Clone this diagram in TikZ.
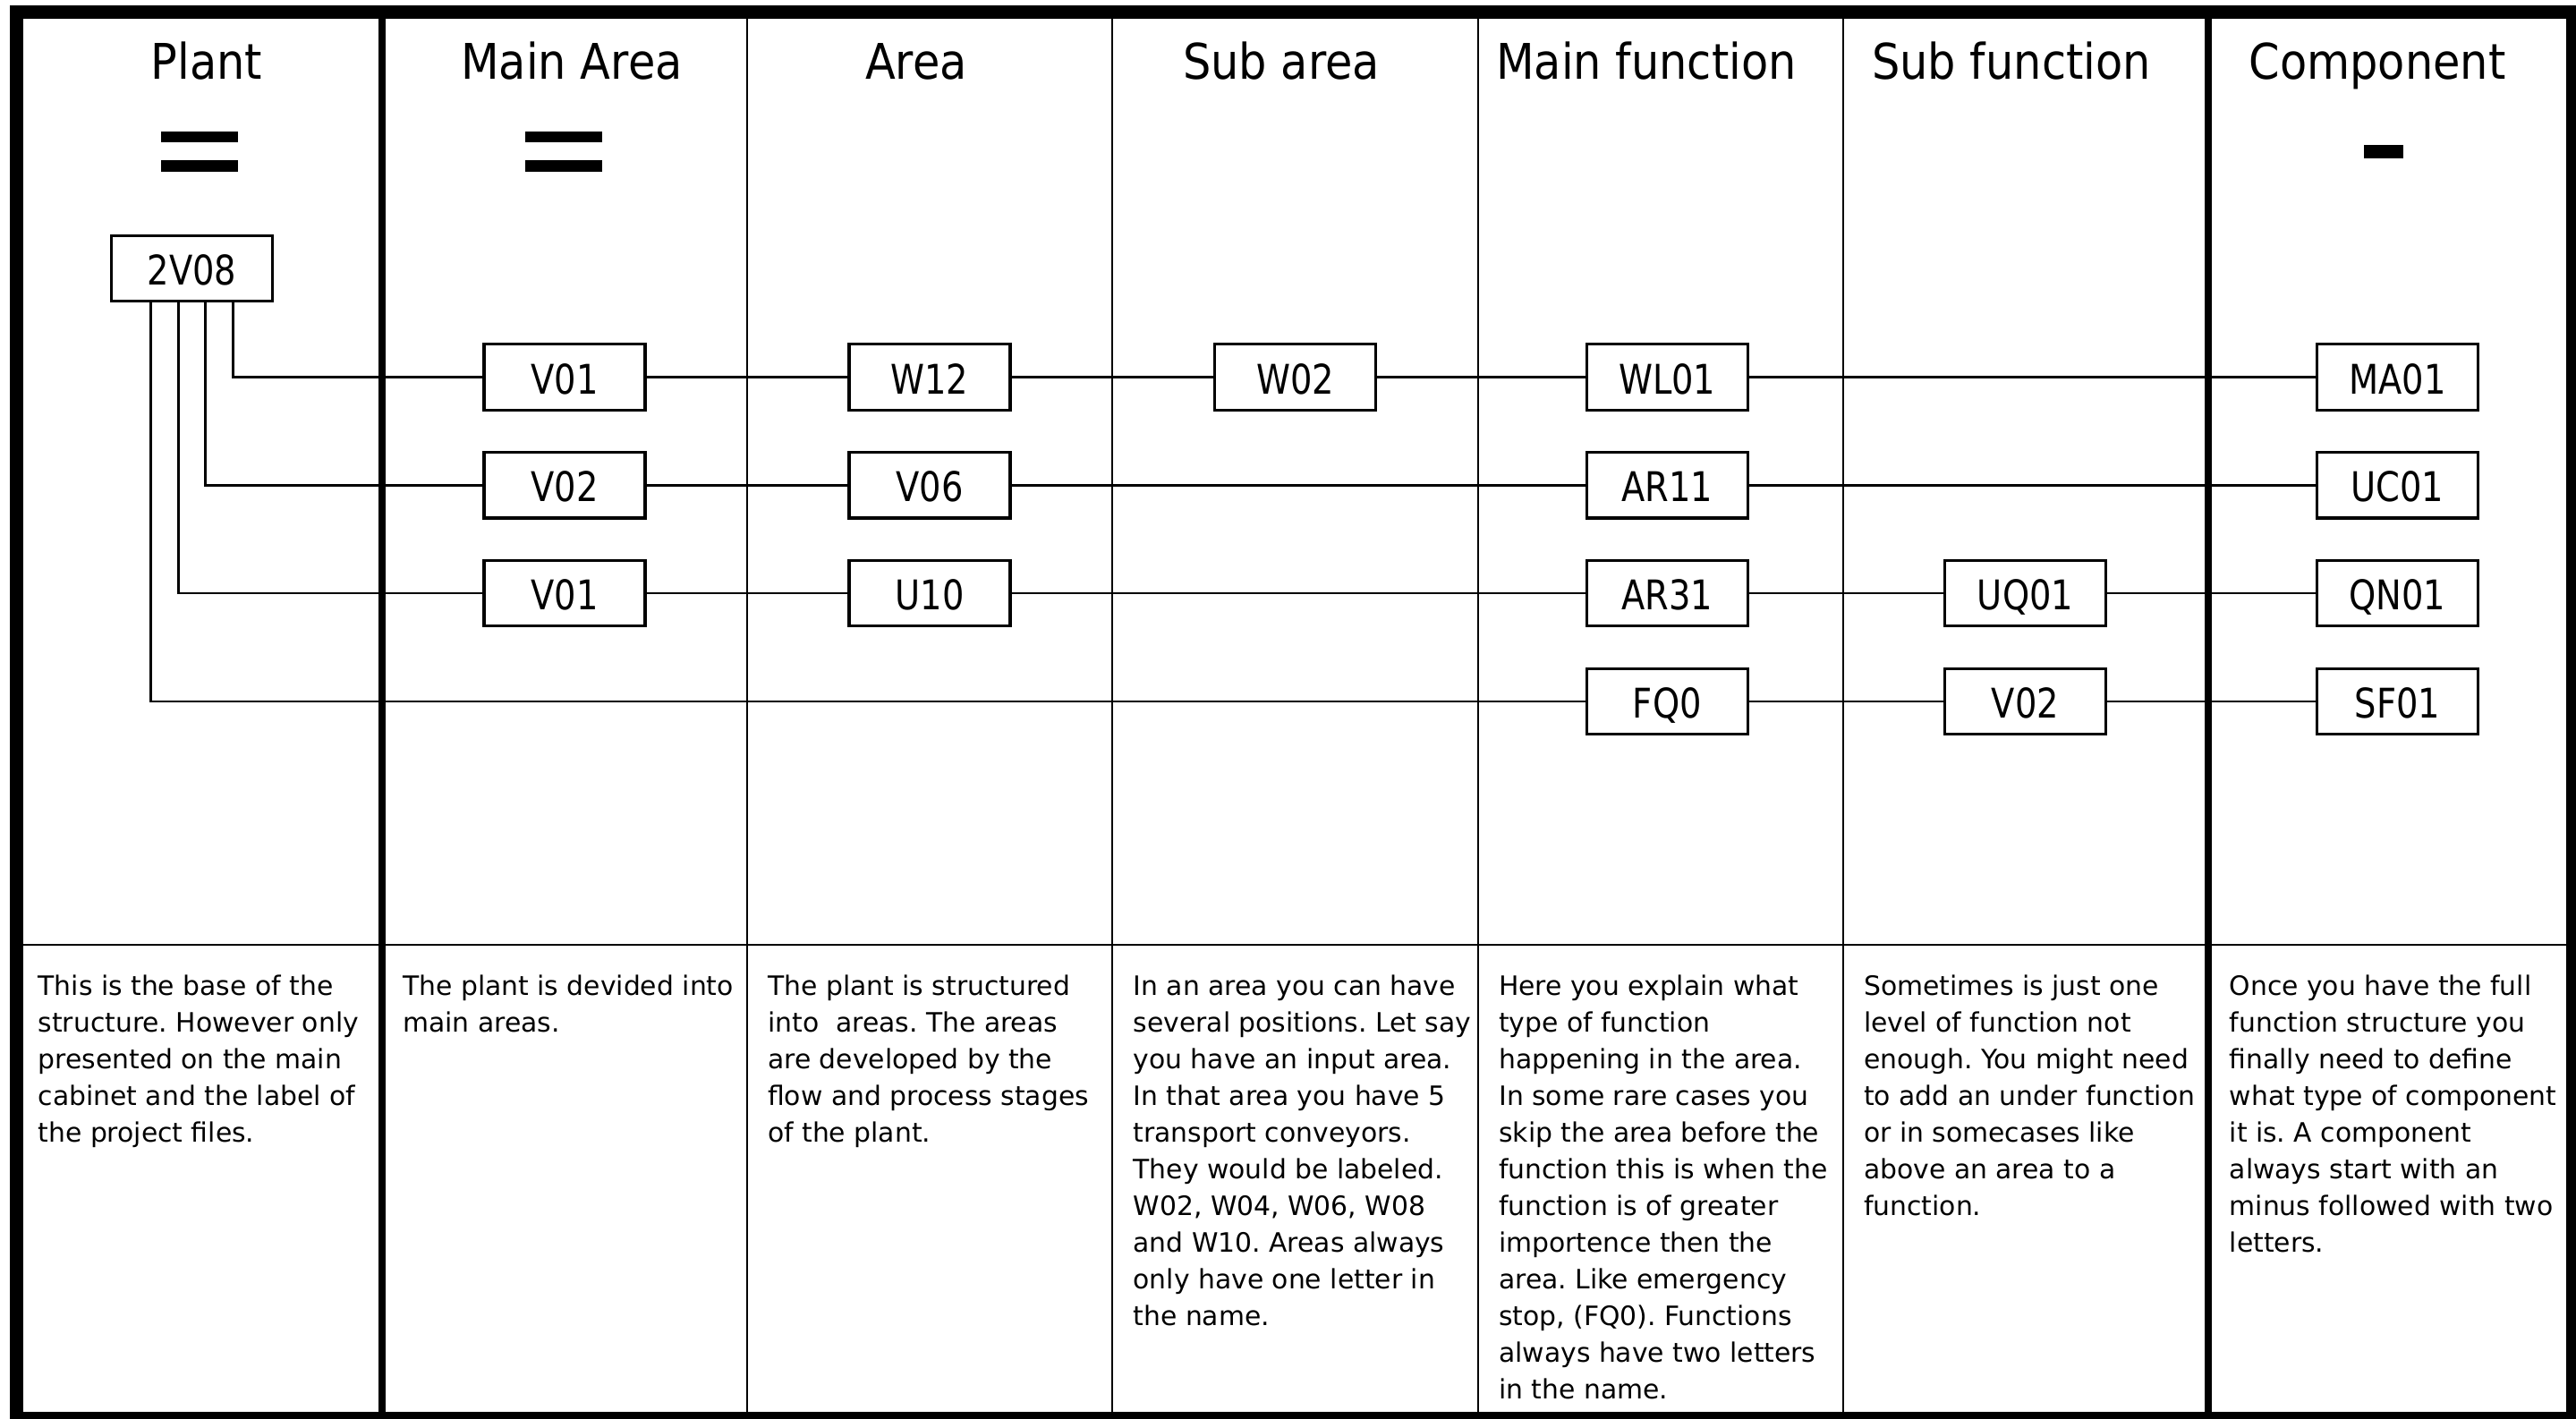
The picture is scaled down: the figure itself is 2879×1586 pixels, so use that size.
\documentclass[tikz,border=0pt]{standalone}
\usepackage{fontspec}
\setmainfont{DejaVu Sans}
\newfontfamily\titlefont{DejaVu Sans}[FakeStretch=0.9]
\newfontfamily\boxfont{DejaVu Sans}[FakeStretch=0.84]
\frenchspacing
\begin{document}
\begin{tikzpicture}[x=1pt,y=-1pt,
  box/.style={draw, line width=3.3pt, fill=white, minimum width=180pt, minimum height=73.5pt,
    inner sep=0pt, font=\boxfont\fontsize{45.7}{50}\selectfont, text height=37pt, text depth=0pt},
  conn/.style={line width=2.7pt},
  thincol/.style={line width=2pt},
  heavycol/.style={line width=8pt},
  coltitle/.style={font=\titlefont\fontsize{54.9}{60}\selectfont, anchor=base, inner sep=0pt},
  body/.style={font=\fontsize{29.8}{41}\selectfont, anchor=north west, align=left, inner sep=0pt}
]
\useasboundingbox (0,0) rectangle (2879,1586);
\clip (0,0) rectangle (2879,1586);
\fill[white] (0,0) rectangle (2879,1586);

% grid
\draw[thincol] (18.5,1055.5) -- (2875.5,1055.5);
\draw[thincol] (834.5,13.5) -- (834.5,1585.5);
\draw[thincol] (1243,13.5) -- (1243,1585.5);
\draw[thincol] (1651.5,13.5) -- (1651.5,1585.5);
\draw[thincol] (2059.5,13.5) -- (2059.5,1585.5);
\draw[heavycol] (426.5,13.5) -- (426.5,1585.5);
\draw[heavycol] (2468,13.5) -- (2468,1585.5);
\draw[line width=15pt] (18.5,13.5) rectangle (2875.5,1585.5);

% titles
\node[coltitle] (t1) at (231,88.5) {Plant};
\node[coltitle] (t2) at (639,88.5) {Main Area};
\node[coltitle] (t3) at (1024,88.5) {Area};
\node[coltitle] (t4) at (1432,88.5) {Sub area};
\node[coltitle] (t5) at (1840,88.5) {Main function};
\node[coltitle] (t6) at (2248,88.5) {Sub function};
\node[coltitle] (t7) at (2657,88.5) {Component};

% signs
\fill (180,147) rectangle (266,159);
\fill (180,179) rectangle (266,192);
\fill (587,147) rectangle (673,159);
\fill (587,179) rectangle (673,192);
\fill (2642,162) rectangle (2686,177);

% boxes
\node[box] (top) at (214.5,300) {2V08};
\node[box] (a1) at (631,421.5) {V01};
\node[box] (b1) at (1039,421.5) {W12};
\node[box] (c1) at (1447.5,421.5) {W02};
\node[box] (d1) at (1863.3,421.5) {WL01};
\node[box] (f1) at (2679.3,421.5) {MA01};
\node[box] (a2) at (631,542.3) {V02};
\node[box] (b2) at (1039,542.3) {V06};
\node[box] (d2) at (1863.3,542.3) {AR11};
\node[box] (f2) at (2679.3,542.3) {UC01};
\node[box] (a3) at (631,663) {V01};
\node[box] (b3) at (1039,663) {U10};
\node[box] (d3) at (1863.3,663) {AR31};
\node[box] (e3) at (2263.5,663) {UQ01};
\node[box] (f3) at (2679.3,663) {QN01};
\node[box] (d4) at (1863.3,784) {FQ0};
\node[box] (e4) at (2263.5,784) {V02};
\node[box] (f4) at (2679.3,784) {SF01};

% connectors
\draw[conn] ([xshift=45.75pt]top.south) |- (a1.west);
\draw[conn] ([xshift=15.25pt]top.south) |- (a2.west);
\draw[conn] ([xshift=-15.25pt]top.south) |- (a3.west);
\draw[conn] ([xshift=-45.75pt]top.south) |- (d4.west);
\draw[conn] (a1) -- (b1);
\draw[conn] (b1) -- (c1);
\draw[conn] (c1) -- (d1);
\draw[conn] (d1) -- (f1);
\draw[conn] (a2) -- (b2);
\draw[conn] (b2) -- (d2);
\draw[conn] (d2) -- (f2);
\draw[conn] (a3) -- (b3);
\draw[conn] (b3) -- (d3);
\draw[conn] (d3) -- (e3);
\draw[conn] (e3) -- (f3);
\draw[conn] (d4) -- (e4);
\draw[conn] (e4) -- (f4);

% descriptions
\node[body] (x1) at (42.5,1082) {\rule{0pt}{30pt}This is the base of the\\structure. However only\\presented on the main\\cabinet and the label of\\the project files.};
\node[body] (x2) at (450,1082) {\rule{0pt}{30pt}The plant is devided into\\main areas.};
\node[body] (x3) at (858,1082) {\rule{0pt}{30pt}The plant is structured\\into\ \ areas. The areas\\are developed by the\\flow and process stages\\of the plant.};
\node[body] (x4) at (1266.5,1082) {\rule{0pt}{30pt}In an area you can have\\several positions. Let say\\you have an input area.\\In that area you have 5\\transport conveyors.\\They would be labeled.\\W02, W04, W06, W08\\and W10. Areas always\\only have one letter in\\the name.};
\node[body] (x5) at (1675,1082) {\rule{0pt}{30pt}Here you explain what\\type of function\\happening in the area.\\In some rare cases you\\skip the area before the\\function this is when the\\function is of greater\\importence then the\\area. Like emergency\\stop, (FQ0). Functions\\always have two letters\\in the name.};
\node[body] (x6) at (2083,1082) {\rule{0pt}{30pt}Sometimes is just one\\level of function not\\enough. You might need\\to add an under function\\or in somecases like\\above an area to a\\function.};
\node[body] (x7) at (2491.5,1082) {\rule{0pt}{30pt}Once you have the full\\function structure you\\finally need to define\\what type of component\\it is. A component\\always start with an\\minus followed with two\\letters.};
\end{tikzpicture}
\end{document}
